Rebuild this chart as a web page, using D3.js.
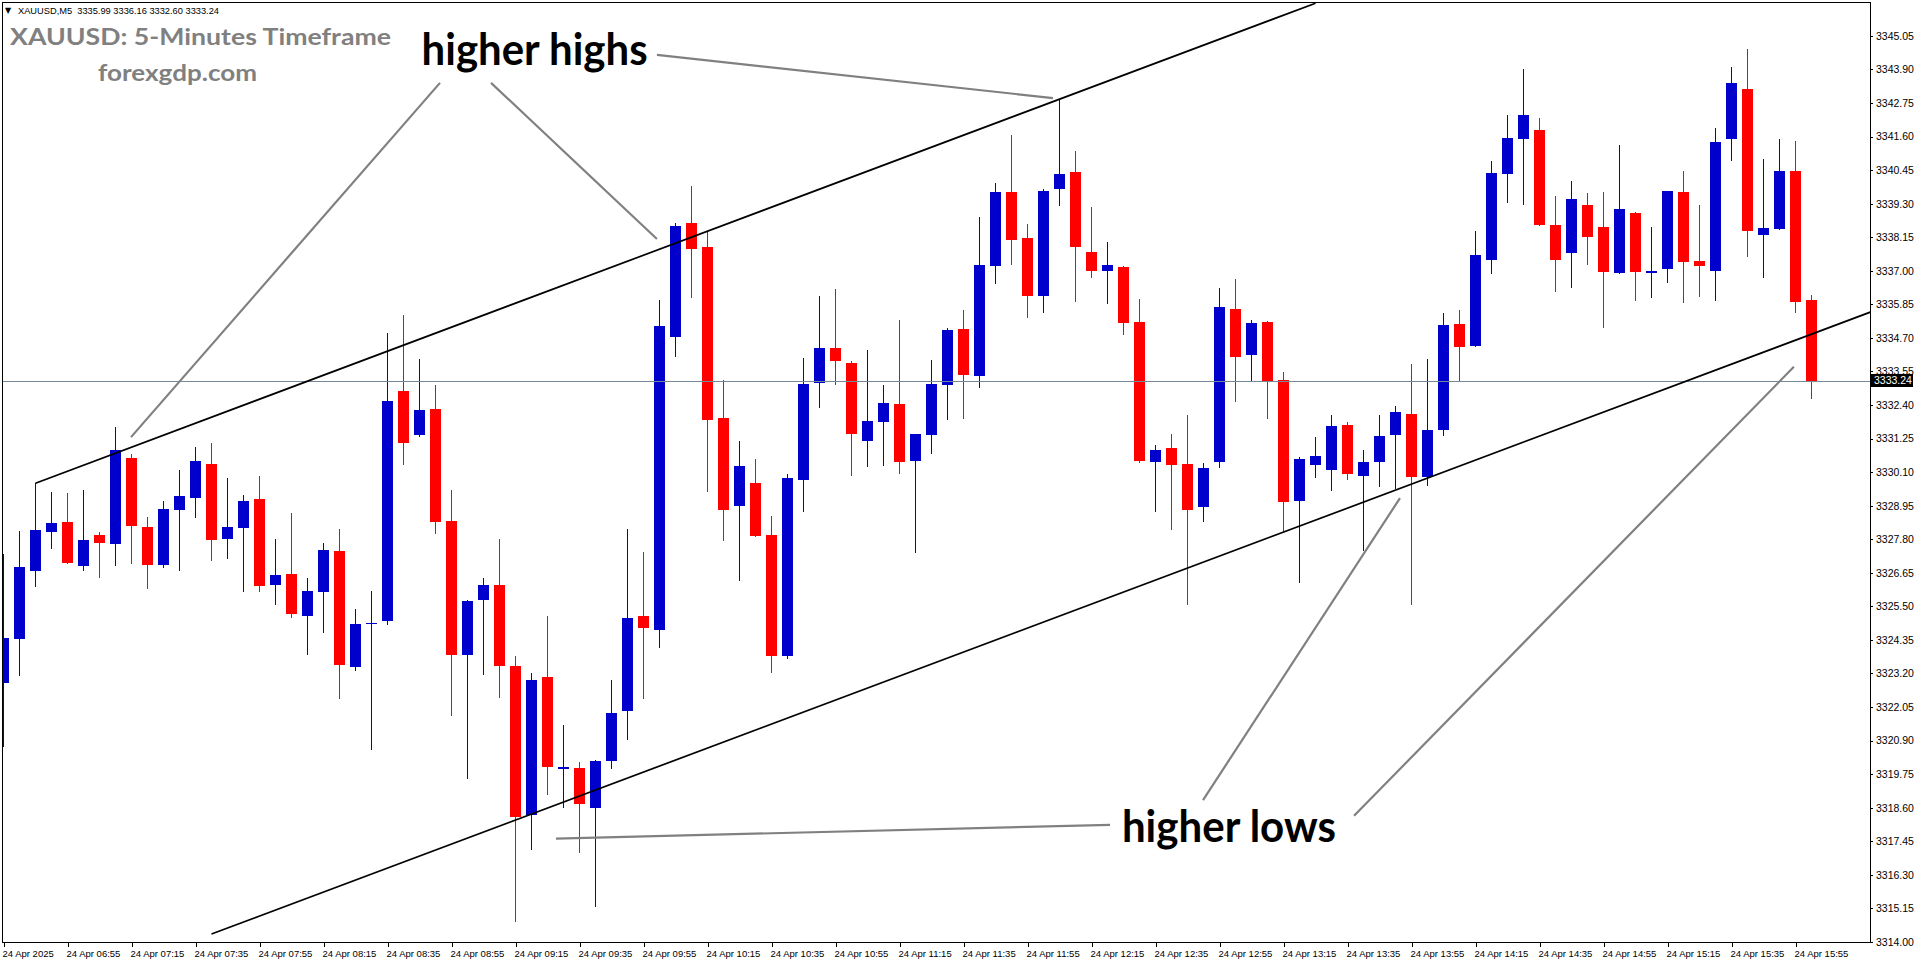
<!DOCTYPE html>
<html><head><meta charset="utf-8">
<script src="https://cdn.jsdelivr.net/npm/d3@7"></script>
<style>html,body{margin:0;padding:0;background:#fff;overflow:hidden}</style>
</head><body>
<svg id="c" width="1916" height="964"></svg>
<script>
// ---- DATA (XAUUSD M5, 24 Apr 2025, bars from 06:35 to 16:00) ----
const open  = [3322.88,3324.38,3326.72,3328.06,3328.39,3326.89,3327.94,3327.65,3330.57,3328.23,3326.92,3328.80,3329.22,3330.38,3327.82,3328.20,3329.18,3326.24,3326.61,3325.18,3326.00,3327.40,3323.43,3324.90,3325.00,3332.88,3331.37,3332.26,3328.43,3323.84,3325.71,3326.23,3323.47,3318.34,3323.07,3319.94,3319.96,3318.58,3320.20,3321.90,3325.17,3324.69,3334.73,3338.65,3337.81,3331.94,3328.95,3329.74,3327.93,3323.80,3329.82,3333.15,3334.37,3333.84,3331.18,3331.81,3332.43,3330.48,3331.36,3333.08,3335.00,3333.41,3337.17,3339.69,3338.11,3336.15,3339.79,3340.40,3337.66,3337.00,3337.13,3335.25,3330.46,3330.93,3330.38,3328.92,3330.46,3335.69,3334.13,3335.25,3333.26,3329.12,3330.36,3330.18,3331.72,3329.98,3330.46,3331.38,3332.09,3329.94,3331.54,3335.18,3334.43,3337.37,3340.32,3341.52,3341.83,3338.57,3337.61,3339.25,3338.50,3336.92,3338.98,3336.94,3337.06,3339.70,3337.35,3336.99,3341.52,3343.23,3338.23,3338.43,3340.42,3335.99];
const high  = [3327.29,3328.09,3329.74,3329.42,3329.38,3329.49,3328.05,3331.66,3330.72,3328.55,3329.11,3330.17,3330.96,3331.09,3329.90,3329.32,3329.97,3327.81,3328.70,3326.47,3327.67,3328.15,3325.41,3326.03,3334.86,3335.48,3333.98,3333.09,3329.50,3325.72,3326.47,3327.80,3323.80,3323.23,3325.17,3321.45,3320.15,3320.23,3322.99,3328.14,3327.36,3335.99,3338.65,3339.90,3338.32,3333.27,3331.18,3330.55,3328.58,3330.02,3334.02,3336.15,3336.37,3333.91,3334.29,3333.08,3335.31,3331.42,3333.94,3335.03,3335.66,3338.84,3340.01,3341.65,3338.60,3339.79,3342.87,3341.09,3339.20,3337.99,3337.15,3336.03,3331.03,3331.41,3332.06,3330.41,3336.41,3336.72,3335.31,3335.27,3333.53,3330.62,3331.30,3332.06,3331.83,3330.86,3332.06,3332.37,3333.81,3333.98,3335.54,3335.66,3338.36,3340.76,3342.34,3343.92,3342.24,3339.56,3340.08,3339.67,3339.70,3341.31,3339.00,3338.50,3339.75,3340.42,3339.25,3341.89,3343.98,3344.60,3340.83,3341.52,3341.45,3336.16];
const low   = [3320.67,3323.11,3326.17,3327.48,3326.96,3326.72,3326.48,3326.89,3326.95,3326.09,3326.83,3326.72,3328.54,3327.06,3327.13,3326.00,3326.00,3325.56,3325.11,3323.84,3324.60,3322.33,3323.29,3320.59,3324.86,3330.35,3331.31,3327.99,3321.75,3319.57,3323.15,3322.37,3314.69,3317.16,3319.02,3318.58,3317.03,3315.21,3319.94,3320.91,3322.34,3324.07,3334.05,3336.07,3329.42,3327.73,3326.37,3327.88,3323.23,3323.68,3328.75,3332.30,3333.08,3329.96,3330.27,3330.31,3330.03,3327.33,3330.73,3331.88,3331.92,3332.97,3336.54,3337.20,3335.38,3335.55,3339.23,3335.94,3336.75,3335.87,3334.80,3330.42,3328.75,3328.12,3325.55,3328.40,3330.25,3332.51,3333.20,3331.93,3328.06,3326.29,3329.91,3329.46,3329.84,3327.38,3329.60,3329.53,3325.55,3329.64,3331.35,3333.20,3334.40,3336.89,3339.32,3339.25,3338.55,3336.27,3336.41,3337.20,3335.05,3336.90,3335.96,3336.07,3336.58,3335.90,3336.10,3335.96,3340.76,3337.47,3336.75,3338.40,3335.55,3332.60];
const close = [3324.40,3326.86,3328.12,3328.36,3327.00,3327.77,3327.68,3330.86,3328.25,3326.92,3328.84,3329.28,3330.48,3327.78,3328.22,3329.11,3326.21,3326.57,3325.25,3326.03,3327.43,3323.50,3324.90,3324.94,3332.54,3331.11,3332.23,3328.40,3323.84,3325.68,3326.22,3323.47,3318.29,3322.99,3320.00,3319.98,3318.73,3320.19,3321.85,3325.10,3324.75,3335.10,3338.54,3337.73,3331.89,3328.80,3330.32,3327.91,3323.80,3329.89,3333.11,3334.37,3333.91,3331.42,3331.85,3332.47,3330.44,3331.39,3333.11,3334.97,3333.43,3337.21,3339.69,3338.07,3336.15,3339.73,3340.31,3337.83,3337.00,3337.20,3335.22,3330.49,3330.86,3330.36,3328.81,3330.24,3335.76,3334.06,3335.21,3333.20,3329.09,3330.55,3330.65,3331.68,3330.05,3330.45,3331.34,3332.16,3329.94,3331.54,3335.14,3334.40,3337.54,3340.35,3341.55,3342.34,3338.57,3337.37,3339.46,3338.16,3336.96,3339.12,3336.96,3336.99,3339.73,3337.30,3337.16,3341.41,3343.44,3338.36,3338.47,3340.42,3335.93,3333.24];

const priceTicks = ["3314.00","3315.15","3316.30","3317.45","3318.60","3319.75","3320.90","3322.05","3323.20","3324.35","3325.50","3326.65","3327.80","3328.95","3330.10","3331.25","3332.40","3333.55","3334.70","3335.85","3337.00","3338.15","3339.30","3340.45","3341.60","3342.75","3343.90","3345.05"];
const timeLabels = ["24 Apr 2025","24 Apr 06:55","24 Apr 07:15","24 Apr 07:35","24 Apr 07:55","24 Apr 08:15","24 Apr 08:35","24 Apr 08:55","24 Apr 09:15","24 Apr 09:35","24 Apr 09:55","24 Apr 10:15","24 Apr 10:35","24 Apr 10:55","24 Apr 11:15","24 Apr 11:35","24 Apr 11:55","24 Apr 12:15","24 Apr 12:35","24 Apr 12:55","24 Apr 13:15","24 Apr 13:35","24 Apr 13:55","24 Apr 14:15","24 Apr 14:35","24 Apr 14:55","24 Apr 15:15","24 Apr 15:35","24 Apr 15:55"];
const barsPerLabel = 4;

const headerText = "XAUUSD,M5  3335.99 3336.16 3332.60 3333.24";
const titleText = "XAUUSD: 5-Minutes Timeframe";
const siteText = "forexgdp.com";
const lastPrice = 3333.24;

// trend lines: [bar, price] pairs
const upperTrend = [[2, 3329.72], [82, 3346.17]];
const lowerTrend = [[13, 3314.27], [117, 3335.65]];
// pointer lines: [bar1, price1, bar2, price2]
const pointerLines = [
  [27.28, 3343.44, 7.97, 3331.30],
  [30.47, 3343.44, 40.84, 3338.09],
  [40.84, 3344.40, 65.59, 3342.92],
  [69.16, 3318.01, 34.53, 3317.54],
  [74.97, 3318.86, 87.28, 3329.21],
  [84.41, 3318.32, 111.9, 3333.71]
];
const annotations = [
  {text: "higher highs", bar: 26.13, price: 3344.05, len: 226},
  {text: "higher lows",  bar: 69.9,  price: 3317.42, len: 214}
];

// ---- CHART ----
const W = 1916, H = 964;
const plot = {left: 2, right: 1870, top: 2, bottom: 942};
const x = d3.scaleLinear().domain([0, 113]).range([3.5, 1811.5]);
const y = d3.scaleLinear().domain([3314.00, 3345.05]).range([941.9, 35.9]);
const UP = "#0000CD", DN = "#FF0000";
const AX_FONT = "Tahoma, 'Liberation Sans', Arial, sans-serif";

const svg = d3.select("#c");
svg.append("rect").attr("width", W).attr("height", H).attr("fill", "#fff");
svg.append("defs").append("clipPath").attr("id", "clip").append("rect")
  .attr("x", plot.left).attr("y", plot.top)
  .attr("width", plot.right - plot.left).attr("height", plot.bottom - plot.top);

const g = svg.append("g").attr("clip-path", "url(#clip)");

const candles = open.map((o, i) => ({i, o, h: high[i], l: low[i], c: close[i]}));
const cg = g.append("g").attr("shape-rendering", "crispEdges");
cg.selectAll("rect.wick").data(candles).join("rect").attr("class", "wick")
  .attr("x", d => x(d.i) - 0.5).attr("width", 1)
  .attr("y", d => Math.round(y(d.h)))
  .attr("height", d => Math.max(1, Math.round(y(d.l)) - Math.round(y(d.h))))
  .attr("fill", d => d.c >= d.o ? UP : DN);
cg.selectAll("rect.body").data(candles).join("rect").attr("class", "body")
  .attr("x", d => x(d.i) - 5.5).attr("width", 11)
  .attr("y", d => Math.round(y(Math.max(d.o, d.c))))
  .attr("height", d => Math.max(1, Math.round(y(Math.min(d.o, d.c))) - Math.round(y(Math.max(d.o, d.c)))))
  .attr("fill", d => d.c >= d.o ? UP : DN);

// bid line
g.append("line").attr("x1", plot.left).attr("x2", plot.right)
  .attr("y1", Math.round(y(lastPrice)) + 0.5).attr("y2", Math.round(y(lastPrice)) + 0.5)
  .attr("stroke", "#778899").attr("stroke-width", 1);

// trend lines
[upperTrend, lowerTrend].forEach(t => {
  g.append("line")
    .attr("x1", x(t[0][0])).attr("y1", y(t[0][1]))
    .attr("x2", x(t[1][0])).attr("y2", y(t[1][1]))
    .attr("stroke", "#000").attr("stroke-width", 1.7);
});

// pointer lines
g.selectAll("line.ptr").data(pointerLines).join("line").attr("class", "ptr")
  .attr("x1", d => x(d[0])).attr("y1", d => y(d[1]))
  .attr("x2", d => x(d[2])).attr("y2", d => y(d[3]))
  .attr("stroke", "#808080").attr("stroke-width", 2.2);

// annotation text
svg.selectAll("text.ann").data(annotations).join("text").attr("class", "ann")
  .attr("x", d => x(d.bar)).attr("y", d => y(d.price))
  .attr("font-family", "Lato, 'Open Sans', sans-serif").attr("font-weight", 700)
  .attr("font-size", 43).attr("fill", "#000")
  .attr("textLength", d => d.len).attr("lengthAdjust", "spacingAndGlyphs")
  .text(d => d.text);

// header & titles
svg.append("text").attr("x", 5).attr("y", 13).attr("font-size", 8).attr("fill", "#000")
  .attr("font-family", "'DejaVu Sans', sans-serif").text("\u25BC");
svg.append("text").attr("x", 18).attr("y", 14).attr("font-size", 9.5).attr("fill", "#000")
  .attr("font-family", AX_FONT).attr("textLength", 201).attr("lengthAdjust", "spacingAndGlyphs")
  .attr("xml:space", "preserve").style("white-space", "pre").text(headerText);
svg.append("text").attr("x", 10).attr("y", 45).attr("font-size", 22).attr("font-weight", 700)
  .attr("fill", "#808080").attr("font-family", "Lato, 'Open Sans', sans-serif")
  .attr("textLength", 381).attr("lengthAdjust", "spacingAndGlyphs").text(titleText);
svg.append("text").attr("x", 98).attr("y", 81).attr("font-size", 22).attr("font-weight", 700)
  .attr("fill", "#808080").attr("font-family", "Lato, 'Open Sans', sans-serif")
  .attr("textLength", 159).attr("lengthAdjust", "spacingAndGlyphs").text(siteText);

// axes
const yAxis = d3.axisRight(y).tickValues(priceTicks.map(Number))
  .tickFormat((d, i) => priceTicks[i]).tickSize(3).tickPadding(3);
const ya = svg.append("g").attr("transform", `translate(${plot.right},0)`).call(yAxis);
ya.select(".domain").remove();
ya.attr("font-family", AX_FONT).attr("font-size", 10.5);
ya.selectAll(".tick line").attr("stroke", "#000").attr("shape-rendering", "crispEdges");
ya.selectAll(".tick text").attr("fill", "#000");

const xAxis = d3.axisBottom(x).tickValues(timeLabels.map((_, k) => k * barsPerLabel))
  .tickFormat((d, k) => timeLabels[k]).tickSize(5).tickPadding(3);
const xa = svg.append("g").attr("transform", `translate(0,${plot.bottom})`).call(xAxis);
xa.select(".domain").remove();
xa.attr("font-family", AX_FONT).attr("font-size", 9.5);
xa.selectAll(".tick line").attr("stroke", "#000").attr("shape-rendering", "crispEdges");
xa.selectAll(".tick text").attr("fill", "#000").attr("text-anchor", "start").attr("dx", -1.5);

// border
svg.append("rect").attr("x", plot.left).attr("y", plot.top)
  .attr("width", plot.right - plot.left).attr("height", plot.bottom - plot.top)
  .attr("fill", "none").attr("stroke", "#000").attr("stroke-width", 1)
  .attr("shape-rendering", "crispEdges");

// last price box
const yl = y(lastPrice);
svg.append("rect").attr("x", plot.right + 1).attr("y", yl - 6.5).attr("width", 42).attr("height", 13)
  .attr("fill", "#000");
svg.append("text").attr("x", plot.right + 4).attr("y", yl).attr("dy", "0.35em")
  .attr("font-family", AX_FONT).attr("font-size", 10.5).attr("fill", "#fff").text(lastPrice.toFixed(2));
</script>
</body></html>
